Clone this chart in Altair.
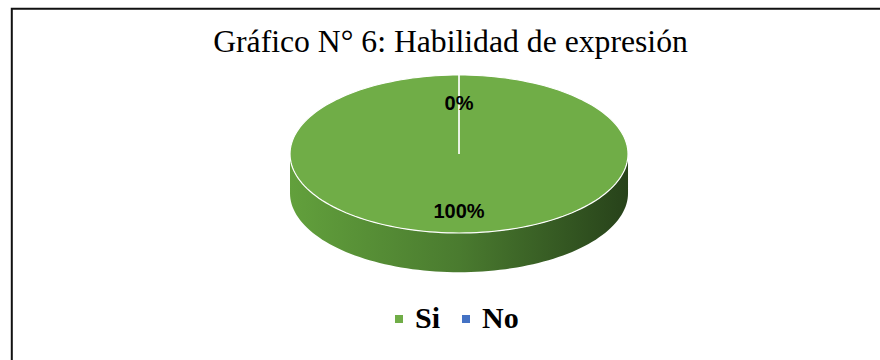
import math

import altair as alt
import pandas as pd

# Survey result shown in the pie
categories = ["Si", "No"]
values = [100, 0]            # percent of answers
colors = ["#70ad47", "#4472c4"]
title_text = "Gráfico N° 6: Habilidad de expresión"

# Disc geometry in radius units (1 = horizontal radius of the top face)
RY = 0.4675      # vertical squash of the top face
DEPTH = 0.232    # thickness of the disc
LABEL_R = 0.68   # label distance from the centre, as a share of the radius
LABEL_DROP = 0.024

total = sum(values)
starts, ends = [], []
acc = 0.0
for v in values:
    starts.append(acc / total * 360.0)
    acc += v
    ends.append(acc / total * 360.0)


def ellipse_point(deg, r=1.0):
    """Point on the top face at a clockwise angle from 12 o'clock."""
    t = math.radians(deg)
    return r * math.sin(t), r * math.cos(t) * RY


# Top face: one closed polygon per slice (centre -> arc -> centre)
top_rows = []
for cat, a0, a1 in zip(categories, starts, ends):
    steps = max(2, int(abs(a1 - a0) / 2))
    pts = [(0.0, 0.0)]
    pts += [ellipse_point(a0 + (a1 - a0) * k / steps) for k in range(steps + 1)]
    pts.append((0.0, 0.0))
    for i, (x, y) in enumerate(pts):
        top_rows.append({"cat": cat, "i": i, "x": x, "y": y})
top_df = pd.DataFrame(top_rows)

# Front wall: the part of each slice that faces the viewer (90..270 deg)
side_rows = []
for cat, a0, a1 in zip(categories, starts, ends):
    lo, hi = max(a0, 90.0), min(a1, 270.0)
    if hi <= lo:
        continue
    steps = max(2, int((hi - lo) / 2))
    for k in range(steps + 1):
        x, y = ellipse_point(lo + (hi - lo) * k / steps)
        side_rows.append({"cat": cat, "x": x, "y": y, "y2": y - DEPTH})
side_df = pd.DataFrame(side_rows)

# Data labels at the middle angle of each slice
label_rows = []
for cat, v, a0, a1 in zip(categories, values, starts, ends):
    x, y = ellipse_point((a0 + a1) / 2.0, LABEL_R)
    label_rows.append({"cat": cat, "x": x, "y": y - LABEL_DROP,
                       "label": f"{v / total * 100:.0f}%"})
label_df = pd.DataFrame(label_rows)

xs = alt.Scale(domain=[-2.716, 2.491], nice=False, zero=False)
ys = alt.Scale(domain=[-1.219, 0.911], nice=False, zero=False)

side = alt.Chart(side_df).mark_area(
    color=alt.Gradient(
        gradient="linear",
        stops=[
            alt.GradientStop(offset=0.0, color="#62a03c"),
            alt.GradientStop(offset=0.5, color="#4a7b2f"),
            alt.GradientStop(offset=1.0, color="#27421a"),
        ],
        x1=0, x2=1, y1=0, y2=0,
    ),
    interpolate="linear",
).encode(
    x=alt.X("x:Q", scale=xs, axis=None),
    y=alt.Y("y:Q", scale=ys, axis=None),
    y2="y2:Q",
    detail="cat:N",
)

top = alt.Chart(top_df).mark_line(
    filled=True, stroke="white", strokeWidth=1.2, interpolate="linear"
).encode(
    x=alt.X("x:Q", scale=xs, axis=None),
    y=alt.Y("y:Q", scale=ys, axis=None),
    order="i:Q",
    color=alt.Color(
        "cat:N",
        sort=categories,
        scale=alt.Scale(domain=categories, range=colors),
        legend=alt.Legend(
            title=None,
            orient="none",
            legendX=384,
            legendY=304,
            direction="horizontal",
            symbolType="square",
            symbolSize=64,
            symbolStrokeWidth=0,
            labelFont="Liberation Serif",
            labelFontSize=30,
            labelFontWeight="bold",
            labelColor="black",
            labelOffset=1,
            columnPadding=10,
            padding=0,
        ),
    ),
)

labels = alt.Chart(label_df).mark_text(
    font="Liberation Sans", fontSize=20, fontWeight="bold", color="black",
    baseline="middle", align="center",
).encode(
    x=alt.X("x:Q", scale=xs, axis=None),
    y=alt.Y("y:Q", scale=ys, axis=None),
    text="label:N",
)

title = alt.Chart(alt.Data(values=[{"t": title_text}])).mark_text(
    font="Liberation Serif", fontSize=31.7, color="black",
    align="center", baseline="alphabetic",
).encode(x=alt.value(450.5), y=alt.value(51.5), text="t:N")

frame = alt.Chart(alt.Data(values=[{}])).mark_rect(
    filled=False, stroke="#111111", strokeWidth=2
).encode(
    x=alt.value(11.8), x2=alt.value(1000),
    y=alt.value(8.8), y2=alt.value(1000),
)

chart = alt.layer(frame, side, top, labels, title).properties(
    width=880, height=360,
    padding=0,
    autosize=alt.AutoSizeParams(type="none"),
    background="white",
).configure_view(stroke=None)

chart.save("out.html", embed_options={"renderer": "svg", "actions": False})
